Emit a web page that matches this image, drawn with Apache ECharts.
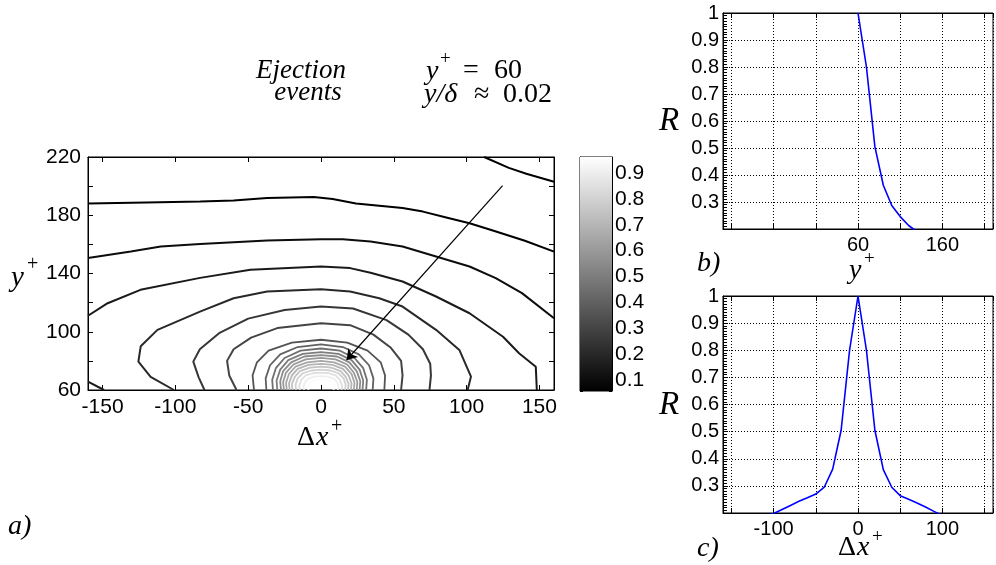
<!DOCTYPE html>
<html>
<head>
<meta charset="utf-8">
<script src="https://cdn.jsdelivr.net/npm/echarts@6/dist/echarts.min.js"></script>
<style>
html,body{margin:0;padding:0;background:#fff;}
#chart{width:996px;height:565px;}
</style>
</head>
<body>
<div id="chart"></div>
<script>
// ---- panel b: R against wall distance y+ (through the peak) ----
const profileYPlus = [60, 70, 80, 90, 100, 110, 120, 130, 140];
const profileRy    = [1.0, 0.80, 0.505, 0.362, 0.287, 0.246, 0.213, 0.19, 0.17];
const yPlusRef = 60;              // reference height of the two-point correlation
const yPlusTickLabels = [60, 160];

// ---- panel c: R against streamwise separation dx+ ----
const profileDx = [-150, -140, -130, -120, -110, -100, -90, -80, -70, -60, -50, -40, -30, -20, -10,
                   0, 10, 20, 30, 40, 50, 60, 70, 80, 90, 100, 110, 120, 130, 140, 150];
const profileRx = [0.15, 0.16, 0.17, 0.18, 0.19, 0.198, 0.213, 0.228, 0.243, 0.256, 0.27, 0.295, 0.362, 0.505, 0.80,
                   1.0, 0.80, 0.505, 0.36, 0.295, 0.264, 0.251, 0.237, 0.222, 0.206, 0.191, 0.18, 0.17, 0.16, 0.15, 0.14];
const dxTickLabels = [-100, 0, 100];

// ---- panel a: iso-lines of R in the (dx+, y+) plane ----
const contourLevels = [0.0, 0.05, 0.10, 0.15, 0.15, 0.20, 0.25, 0.30,
                       0.35, 0.40, 0.45, 0.50, 0.55, 0.60, 0.65, 0.70, 0.75, 0.80, 0.85, 0.90, 0.95];
const contourPaths = [
  [[112,220],[129,212.5],[141,208.5],[160,203]],
  [[-160,188],[-120,188.8],[-83,189.5],[-60,190.2],[-37,191.8],[-5,192.5],[8,191.1],[24,188],[40,186.5],[56,185],[70,182.5],[86,178.5],[102,174.5],[118,169.5],[140,162.5],[160,155]],
  [[-160,150.6],[-130.6,155.1],[-110,158.5],[-83,160.2],[-37,162.7],[0,163.6],[15,163.6],[34,162],[56,158.5],[79,151.7],[102,144.8],[120,136.8],[138,126.5],[160,109.3]],
  [[-160,111],[-146.5,119.6],[-124,128.8],[-83,137],[-48.5,142.5],[0,144.8],[20,143.7],[34,140.5],[56,134.5],[79,124.2],[102,112.7],[125,96.6],[136,85.2],[147.5,76],[148.2,60]],
  [[-160,65.7],[-149,60]],
  [[-101,60],[-117,69],[-125.4,79.5],[-123.8,90],[-112.3,101.3],[-82.7,114],[-60,123],[-37,127.6],[0,129.2],[20,127.6],[40,123],[56,117.3],[79,101.3],[95,87.5],[103,69.2],[100.7,60]],
  [[-80,60],[-84,68.7],[-87.7,79.5],[-83.2,88],[-70,99],[-50,109],[-25,115],[0,117.3],[22,116],[45,108],[60,98],[70,88],[75,78],[75.5,70],[74.5,60]],
  [[-58,60],[-63,70],[-64.5,80],[-60,88],[-48,96],[-30,102.5],[0,105.9],[20,104.5],[36,98],[48,89],[55,80],[56,70],[55,60]],
  [[-46,60],[-47,70],[-44,79],[-36,87],[-20,92.5],[0,94.5],[18,92.5],[32,87],[41,79],[44,70],[43.5,60]],
  [[-37.5,60],[-38,68],[-35,77],[-28,84.5],[-16,89.5],[0,91.4],[15,89.5],[26,84.5],[33,77],[36,68],[35.5,60]],
  [[-33,60],[-33.5,67],[-31,75],[-25,82],[-14,87],[0,88.5],[13,87],[23,82],[29,75],[31.5,67],[31,60]],
  [[-30,60],[-30.5,66.5],[-28,74],[-22.5,80.5],[-12.5,84.8],[0,86],[12,84.8],[21,80.5],[26.5,74],[29,66.5],[28.5,60]],
  [[-27.5,60],[-28,66],[-26,73],[-20.5,79],[-11.5,83],[0,84],[11,83],[19.5,79],[24.5,73],[27,66],[26.5,60]],
  [[-25.5,60],[-26,65.5],[-24,72],[-19,77.5],[-10.5,81],[0,82],[10,81],[18,77.5],[22.5,72],[25,65.5],[24.5,60]],
  [[-23.5,60],[-24,65],[-22,71],[-17.5,76],[-9.5,79],[0,80],[9,79],[16.5,76],[21,71],[23,65],[22.5,60]],
  [[-21.5,60],[-22,64.5],[-20,70],[-16,74.5],[-8.5,77.2],[0,78],[8,77.2],[15,74.5],[19,70],[21,64.5],[20.5,60]],
  [[-19.5,60],[-20,64],[-18,69],[-14.5,73],[-7.5,75.3],[0,76],[7,75.3],[13.5,73],[17,69],[19,64],[18.5,60]],
  [[-17,60],[-17.5,63.5],[-16,68],[-12.5,71.5],[-6.5,73.4],[0,74],[6.5,73.4],[12,71.5],[15.5,68],[17,63.5],[16.5,60]],
  [[-14.5,60],[-15,63],[-13.5,67],[-10.5,70],[-5.5,71.5],[0,72],[5.5,71.5],[10,70],[13,67],[14.5,63],[14,60]],
  [[-11.5,60],[-12,62.5],[-11,65.5],[-8.5,68],[-4.5,69.2],[0,69.5],[4.5,69.2],[8.5,68],[11,65.5],[12,62.5],[11.5,60]],
  [[-8.5,60],[-9,62],[-8,64.5],[-6.5,66.2],[-3,66.8],[0,67],[3,66.8],[6.5,66.2],[8,64.5],[9,62],[8.5,60]]
];
// direction of the inclined structure: tail -> head, in (dx+, y+)
const arrowPath = [[124.7, 200.3], [17.6, 80.6]];

// colour bar range of the grey map
const colorBarRange = [0.057, 0.962];

const SANS = 'Liberation Sans, Arial, Helvetica, sans-serif';
const SERIF = 'Liberation Serif, Times New Roman, serif';

function grayOf(level) {
  const t = Math.max(0, Math.min(1, (level - colorBarRange[0]) / (colorBarRange[1] - colorBarRange[0])));
  const g = Math.round(t * 255);
  return 'rgb(' + g + ',' + g + ',' + g + ')';
}

const chart = echarts.init(document.getElementById('chart'), null, {renderer: 'canvas'});

const boxGrid = {show: true, borderColor: '#000', borderWidth: 1, backgroundColor: 'transparent', containLabel: false};
const labelA = {color: '#000', fontFamily: SANS, fontSize: 21};
const labelBC = {color: '#000', fontFamily: SANS, fontSize: 20};
const innerTick = {show: true, inside: true, length: 5, lineStyle: {color: '#000', width: 1}};
const dotted = {show: true, lineStyle: {color: '#000', width: 1, type: [1, 2]}};
const noLine = {show: false};
const axisLine = {show: true, onZero: false, lineStyle: {color: '#000', width: 1}};

function dxAxis(grid, position, labelStyle, formatter, extra) {
  return Object.assign({
    type: 'value', gridIndex: grid, position: position, min: -160, max: 160, splitNumber: 5,
    axisLine: axisLine,
    axisTick: innerTick,
    axisLabel: labelStyle ? Object.assign({margin: 6, formatter: formatter}, labelStyle) : {show: false},
    splitLine: noLine
  }, extra || {});
}

function rAxis(grid) {
  return {type: 'value', gridIndex: grid, position: 'left', min: 0.2, max: 1, interval: 0.1,
    axisLine: axisLine, axisTick: innerTick,
    minorTick: {show: true, splitNumber: 10, length: 4, lineStyle: {color: '#000', width: 1}},
    splitLine: dotted,
    axisLabel: Object.assign({margin: 4, showMinLabel: false, formatter: function (v) {
      return v < 0.25 ? '' : String(Math.round(v * 10) / 10);
    }}, labelBC)};
}

const contourSeries = contourPaths.map(function (path, i) {
  return {
    type: 'line', xAxisIndex: 0, yAxisIndex: 0, data: path, symbol: 'none', showSymbol: false,
    lineStyle: {color: grayOf(contourLevels[i]), width: contourLevels[i] <= 0.3 ? 2 : 1.8},
    silent: true, animation: false, z: 2
  };
});

function txt(x, y, text, font, align) {
  return {type: 'text', x: x, y: y, z: 50,
    style: {text: text, font: font, fill: '#000', align: align || 'left', verticalAlign: 'middle'}};
}

const option = {
  animation: false,
  backgroundColor: '#fff',
  grid: [
    Object.assign({left: 88, top: 157, width: 466, height: 233}, boxGrid),   // a
    Object.assign({left: 580, top: 157, width: 32, height: 234}, boxGrid),   // colour bar
    Object.assign({left: 723, top: 13, width: 277, height: 216}, boxGrid),   // b
    Object.assign({left: 723, top: 296, width: 277, height: 217}, boxGrid)   // c
  ],
  xAxis: [
    dxAxis(0, 'bottom', labelA, function (v) { return (v % 50 === 0 && Math.abs(v) <= 150) ? String(v) : ''; }, {axisLabel: Object.assign({margin: 7, formatter: function (v) { return (v % 50 === 0 && Math.abs(v) <= 150) ? String(v) : ''; }}, labelA)}),
    dxAxis(0, 'top', null),
    {type: 'value', gridIndex: 1, min: 0, max: 1, show: false},
    dxAxis(2, 'bottom', labelBC, function (v) {
      const y = v + yPlusRef;
      return yPlusTickLabels.indexOf(y) >= 0 ? String(y) : '';
    }, {splitLine: dotted}),
    dxAxis(2, 'top', null),
    dxAxis(3, 'bottom', labelBC, function (v) { return dxTickLabels.indexOf(v) >= 0 ? String(v) : ''; }, {splitLine: dotted}),
    dxAxis(3, 'top', null)
  ],
  yAxis: [
    {type: 'value', gridIndex: 0, position: 'left', min: 60, max: 220, interval: 20,
      axisLine: axisLine, axisTick: innerTick, splitLine: noLine,
      axisLabel: Object.assign({margin: 7, formatter: function (v) { return (v - 60) % 40 === 0 ? String(v) : ''; }}, labelA)},
    {type: 'value', gridIndex: 0, position: 'right', min: 60, max: 220, interval: 20,
      axisLine: axisLine, axisTick: innerTick, splitLine: noLine, axisLabel: {show: false}},
    {type: 'value', gridIndex: 1, position: 'right', min: colorBarRange[0], max: colorBarRange[1], splitNumber: 9,
      axisLine: axisLine,
      axisTick: {show: true, inside: true, length: 3, lineStyle: {color: '#000'}}, splitLine: noLine,
      axisLabel: Object.assign({margin: 3, formatter: function (v) {
        const r = Math.round(v * 10) / 10;
        return Math.abs(v - r) < 1e-6 ? r.toFixed(1) : '';
      }}, labelA)},
    {type: 'value', gridIndex: 1, position: 'left', min: colorBarRange[0], max: colorBarRange[1], splitNumber: 9,
      axisLine: axisLine,
      axisTick: {show: true, inside: true, length: 3, lineStyle: {color: '#000'}}, splitLine: noLine, axisLabel: {show: false}},
    rAxis(2),
    rAxis(3)
  ],
  series: contourSeries.concat([
    {
      type: 'lines', coordinateSystem: 'cartesian2d', xAxisIndex: 0, yAxisIndex: 0,
      data: [{coords: arrowPath}], symbol: ['none', 'arrow'], symbolSize: [0, 10],
      lineStyle: {color: '#000', width: 1.2, opacity: 1, curveness: 0}, silent: true, z: 6
    },
    {
      type: 'custom', xAxisIndex: 2, yAxisIndex: 2, data: [colorBarRange], silent: true, z: 1,
      renderItem: function (params, api) {
        const topLeft = api.coord([0, api.value(1)]);
        const botRight = api.coord([1, api.value(0)]);
        return {
          type: 'rect',
          shape: {x: topLeft[0], y: topLeft[1], width: botRight[0] - topLeft[0], height: botRight[1] - topLeft[1]},
          style: {fill: new echarts.graphic.LinearGradient(0, 0, 0, 1, [
            {offset: 0, color: '#ffffff'}, {offset: 1, color: '#000000'}])}
        };
      }
    },
    {
      type: 'line', xAxisIndex: 3, yAxisIndex: 4, symbol: 'none', silent: true, z: 4,
      data: profileYPlus.map(function (y, i) { return [y - yPlusRef, profileRy[i]]; }),
      lineStyle: {color: '#0000ff', width: 1.6}
    },
    {
      type: 'line', xAxisIndex: 5, yAxisIndex: 5, symbol: 'none', silent: true, z: 4,
      data: profileDx.map(function (x, i) { return [x, profileRx[i]]; }),
      lineStyle: {color: '#0000ff', width: 1.6}
    }
  ]),
  graphic: [
    txt(301, 71, 'Ejection', 'italic 27px ' + SERIF, 'center'),
    txt(308, 93, 'events', 'italic 27px ' + SERIF, 'center'),
    txt(426, 72, 'y', 'italic 28px ' + SERIF),
    txt(440, 59, '+', '19px ' + SERIF),
    txt(463, 71, '=', '28px ' + SERIF),
    txt(494, 71, '60', '28px ' + SERIF),
    txt(424, 95, 'y/δ', 'italic 28px ' + SERIF),
    txt(474, 95, '≈', '28px ' + SERIF),
    txt(503, 95, '0.02', '28px ' + SERIF),
    txt(11, 278, 'y', 'italic 29px ' + SERIF),
    txt(27, 265, '+', '20px ' + SERIF),
    txt(297, 438, 'Δ', '28px ' + SERIF),
    txt(316, 438, 'x', 'italic 28px ' + SERIF),
    txt(331, 427, '+', '20px ' + SERIF),
    txt(8, 527, 'a)', 'italic 28px ' + SERIF),
    txt(659, 121, 'R', 'italic 33px ' + SERIF),
    txt(659, 405, 'R', 'italic 33px ' + SERIF),
    txt(697, 264, 'b)', 'italic 28px ' + SERIF),
    txt(697, 549, 'c)', 'italic 28px ' + SERIF),
    txt(849, 271, 'y', 'italic 28px ' + SERIF),
    txt(864, 259, '+', '19px ' + SERIF),
    txt(838, 548, 'Δ', '28px ' + SERIF),
    txt(857, 548, 'x', 'italic 28px ' + SERIF),
    txt(872, 537, '+', '19px ' + SERIF)
  ]
};
chart.setOption(option);
</script>
</body>
</html>
